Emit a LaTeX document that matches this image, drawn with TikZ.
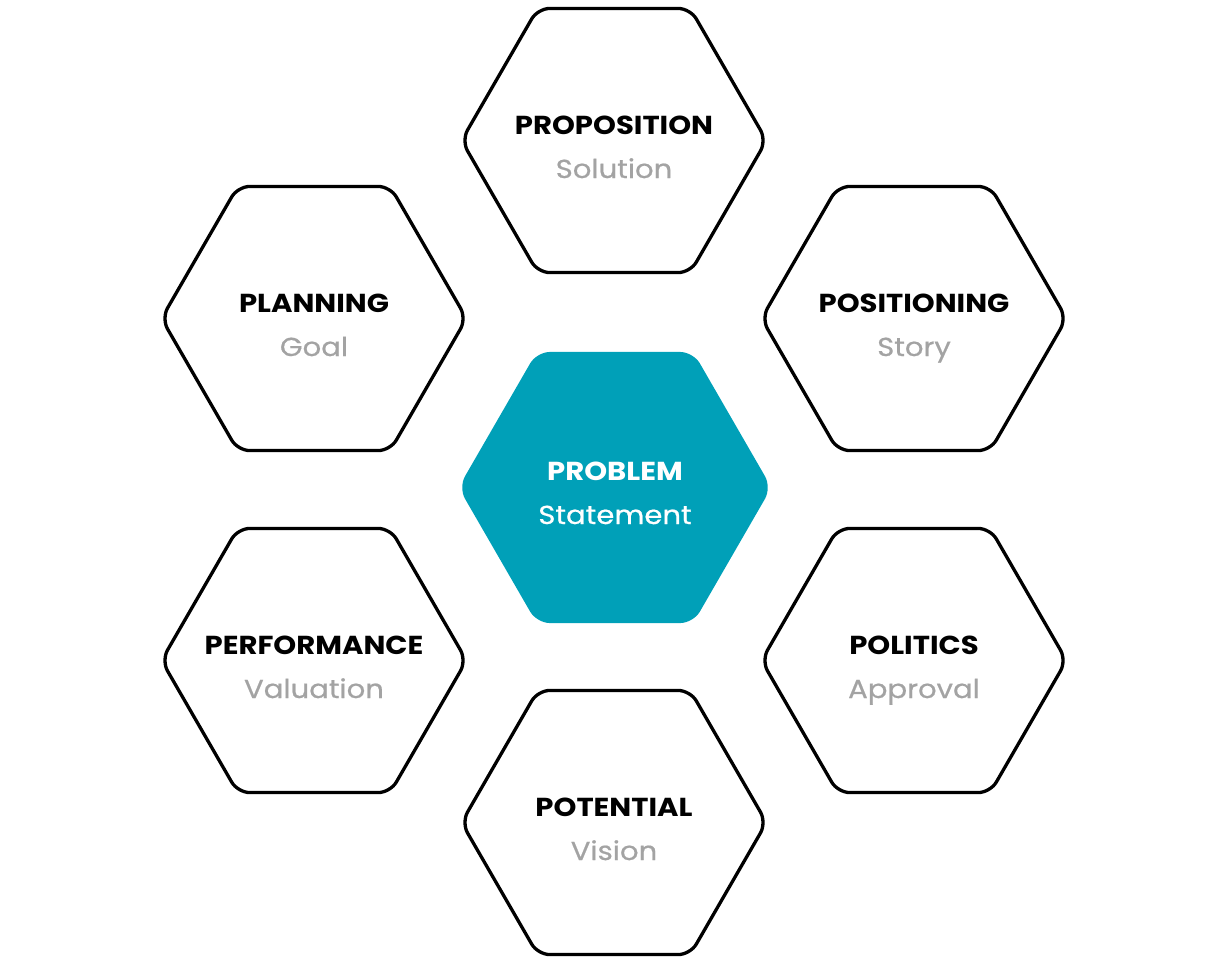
\documentclass[tikz,border=0pt]{standalone}
\usepackage{fontspec}
\setmainfont{Poppins}
\newfontfamily\ttlfont{Poppins}[FakeStretch=1.12]
\newfontfamily\subfont{Poppins}[FakeStretch=1.12, FakeBold=0.6]
\usetikzlibrary{shapes.geometric}
\definecolor{teal}{HTML}{00A0B8}
\definecolor{subgray}{HTML}{A3A3A3}
\tikzset{
  hexbox/.style={regular polygon, regular polygon sides=6, minimum size=305pt,
    inner sep=0pt, outer sep=0pt, draw=black, line width=3.3pt, rounded corners=12pt, fill=white},
  hexcore/.style={regular polygon, regular polygon sides=6, minimum size=313pt,
    inner sep=0pt, outer sep=0pt, draw=none, fill=teal, rounded corners=13pt},
  ttl/.style={anchor=base, inner sep=0pt, font=\ttlfont\fontsize{26}{30}\selectfont\bfseries, text=black},
  sub/.style={anchor=base, inner sep=0pt, font=\subfont\fontsize{26}{30}\selectfont, text=subgray}
}
\begin{document}
\begin{tikzpicture}[x=1pt,y=-1pt]
\useasboundingbox (0,0) rectangle (1228,962);
\node[hexbox] (prop) at (614,140.5) {};
\node[hexbox] (plan) at (314,318.5) {};
\node[hexbox] (posi) at (914,318.5) {};
\node[hexcore] (prob) at (615,487.5) {};
\node[hexbox] (perf) at (314,660.5) {};
\node[hexbox] (poli) at (914,660.5) {};
\node[hexbox] (pote) at (614,822.5) {};
\foreach \n/\t/\s in {prop/PROPOSITION/Solution, plan/PLANNING/Goal, posi/POSITIONING/Story,
  perf/PERFORMANCE/Valuation, poli/POLITICS/Approval, pote/POTENTIAL/Vision}{
  \node[ttl] (\n-t) at ([yshift=6pt]\n.center) {\t};
  \node[sub] (\n-s) at ([yshift=-37.5pt]\n.center) {\s};
}
\node[ttl, text=white] (prob-t) at ([yshift=7pt]prob.center) {PROBLEM};
\node[sub, text=white] (prob-s) at ([yshift=-36.5pt]prob.center) {Statement};
\end{tikzpicture}
\end{document}
